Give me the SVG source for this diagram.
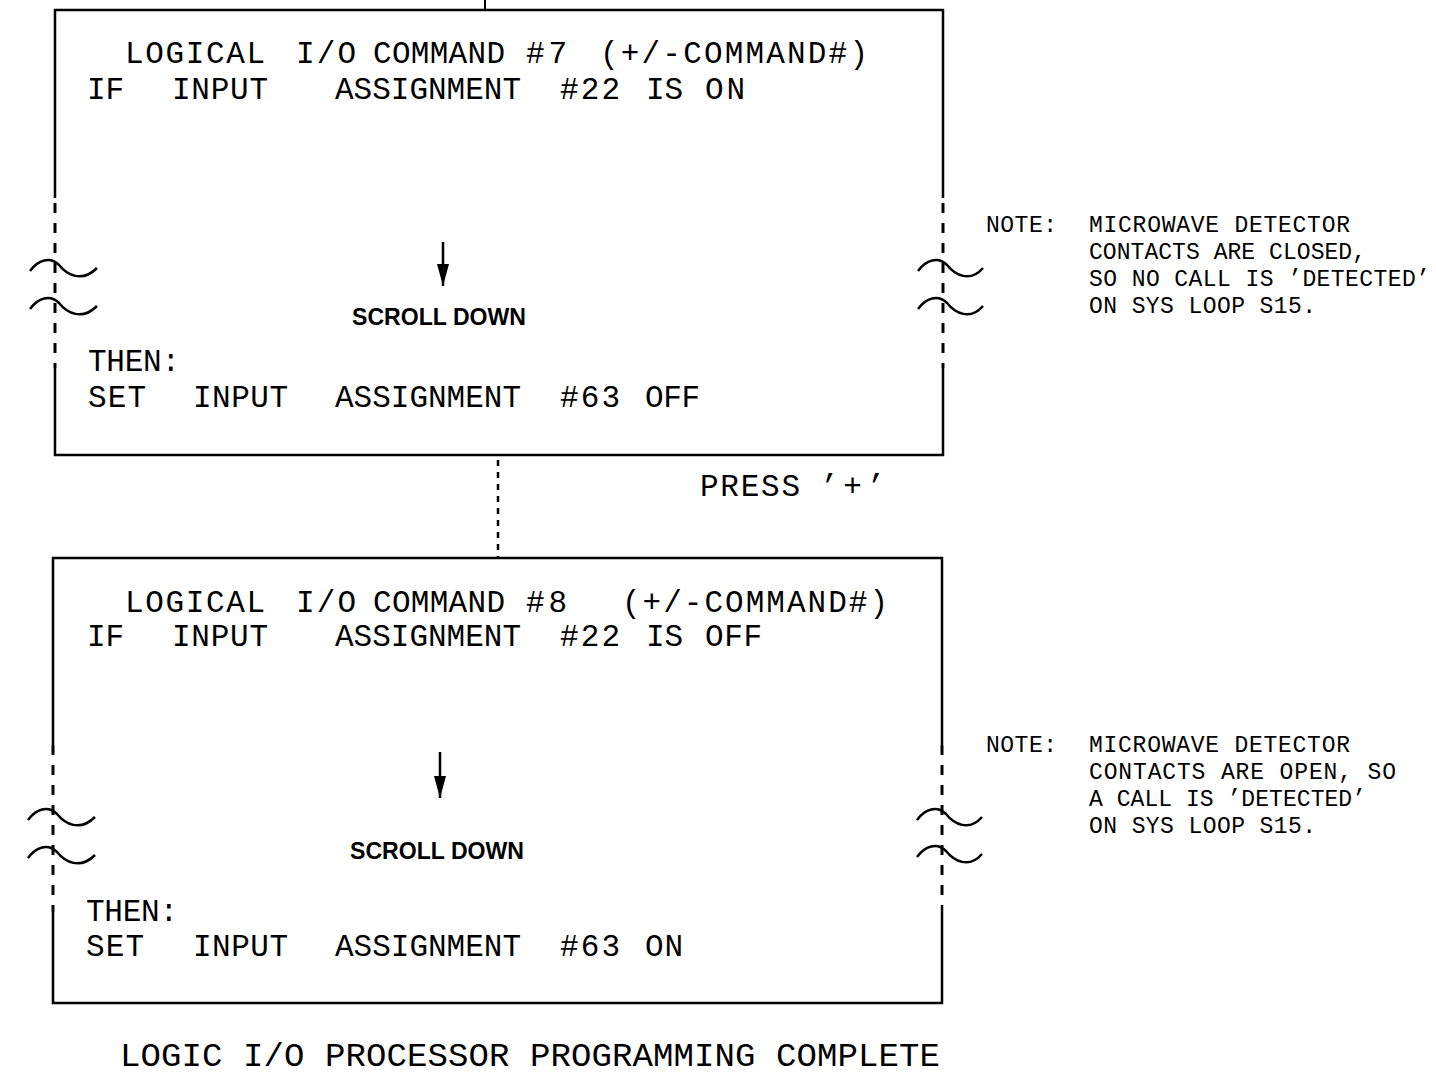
<svg xmlns="http://www.w3.org/2000/svg" width="1436" height="1080" viewBox="0 0 1436 1080">
<style>
.frame{fill:none;stroke:#000;stroke-width:2.5}
.dash{fill:none;stroke:#000;stroke-width:3;stroke-dasharray:10 10}
.brk{fill:none;stroke:#000;stroke-width:2.5}
.t{font-family:"Liberation Mono","DejaVu Sans Mono",monospace;font-size:31px;fill:#000}
.b{font-family:"Liberation Sans","DejaVu Sans",sans-serif;font-size:23px;font-weight:bold;fill:#000}
.n{font-family:"Liberation Mono","DejaVu Sans Mono",monospace;font-size:23px;fill:#000}
.big{font-family:"Liberation Mono","DejaVu Sans Mono",monospace;font-size:34px;fill:#000}
.arr{stroke:#000;stroke-width:2.5}
</style>
<defs>
<marker id="ah" markerWidth="22" markerHeight="12" refX="22" refY="6" orient="auto" markerUnits="userSpaceOnUse">
<path d="M0,0 L22,6 L0,12 Z" fill="#000"/>
</marker>
</defs>
<rect width="1436" height="1080" fill="#fff"/>

<g id="connectors">
<line x1="485" y1="0" x2="485" y2="9" stroke="#000" stroke-width="2"/>
<line x1="498" y1="460" x2="498" y2="557" fill="none" stroke="#000" stroke-width="2.5" stroke-dasharray="6 6"/>
</g>

<g id="cmd7">
<path class="frame" d="M55,198 L55,10 L943,10 L943,198"/>
<path class="frame" d="M55,368 L55,455 L943,455 L943,368"/>
<line class="dash" x1="55" y1="203" x2="55" y2="368"/>
<line class="dash" x1="943" y1="203" x2="943" y2="368"/>
<path class="brk" d="M30,271 C38,260 50,256 59,265 C67,275 82,283 97,268"/>
<path class="brk" d="M30,309 C38,298 50,294 59,303 C67,313 82,321 97,306"/>
<path class="brk" d="M918,271 C926,260 938,256 947,265 C955,275 970,283 983,268"/>
<path class="brk" d="M918,309 C926,298 938,294 947,303 C955,313 970,321 983,306"/>
<text class="t" x="125" y="63" textLength="140" lengthAdjust="spacing">LOGICAL</text>
<text class="t" x="296" y="63" textLength="60" lengthAdjust="spacing">I/O</text>
<text class="t" x="373" y="63" textLength="132" lengthAdjust="spacing">COMMAND</text>
<text class="t" x="526" y="63" textLength="41" lengthAdjust="spacing">#7</text>
<text class="t" x="600" y="63" textLength="268" lengthAdjust="spacing">(+/-COMMAND#)</text>
<text class="t" x="87" y="99">IF</text>
<text class="t" x="172" y="99" textLength="96" lengthAdjust="spacing">INPUT</text>
<text class="t" x="335" y="99" textLength="186" lengthAdjust="spacing">ASSIGNMENT</text>
<text class="t" x="560" y="99" textLength="60" lengthAdjust="spacing">#22</text>
<text class="t" x="646" y="99">IS</text>
<text class="t" x="705" y="99" textLength="40" lengthAdjust="spacing">ON</text>
<line class="arr" x1="443" y1="242" x2="443" y2="286" marker-end="url(#ah)"/>
<text class="b" x="352" y="325" textLength="174" lengthAdjust="spacingAndGlyphs">SCROLL DOWN</text>
<text class="t" x="88" y="371" textLength="92" lengthAdjust="spacing">THEN:</text>
<text class="t" x="88" y="407" textLength="58" lengthAdjust="spacing">SET</text>
<text class="t" x="193" y="407" textLength="95" lengthAdjust="spacing">INPUT</text>
<text class="t" x="335" y="407" textLength="186" lengthAdjust="spacing">ASSIGNMENT</text>
<text class="t" x="560" y="407" textLength="60" lengthAdjust="spacing">#63</text>
<text class="t" x="645" y="407" textLength="55" lengthAdjust="spacing">OFF</text>
</g>

<g id="note1">
<text class="n" x="986" y="232" textLength="71" lengthAdjust="spacing">NOTE:</text>
<text class="n" x="1089" y="232" textLength="261" lengthAdjust="spacing">MICROWAVE DETECTOR</text>
<text class="n" x="1089" y="259" textLength="277" lengthAdjust="spacing">CONTACTS ARE CLOSED,</text>
<text class="n" x="1089" y="286" textLength="341" lengthAdjust="spacing">SO NO CALL IS ’DETECTED’</text>
<text class="n" x="1089" y="313" textLength="227" lengthAdjust="spacing">ON SYS LOOP S15.</text>
</g>

<g id="press">
<text class="t" x="700" y="496" textLength="100" lengthAdjust="spacing">PRESS</text>
<text class="t" x="820" y="496" textLength="65" lengthAdjust="spacing">’+’</text>
</g>

<g id="cmd8">
<path class="frame" d="M53,745 L53,558 L942,558 L942,745"/>
<path class="frame" d="M53,912 L53,1003 L942,1003 L942,905"/>
<line class="dash" x1="53" y1="745" x2="53" y2="912"/>
<line class="dash" x1="942" y1="745" x2="942" y2="905"/>
<path class="brk" d="M28,820 C36,809 48,805 57,814 C65,824 80,832 95,817"/>
<path class="brk" d="M28,858 C36,847 48,843 57,852 C65,862 80,870 95,855"/>
<path class="brk" d="M917,820 C925,809 937,805 946,814 C954,824 969,832 982,817"/>
<path class="brk" d="M917,857 C925,846 937,842 946,851 C954,861 969,869 982,854"/>
<text class="t" x="125" y="612" textLength="140" lengthAdjust="spacing">LOGICAL</text>
<text class="t" x="296" y="612" textLength="60" lengthAdjust="spacing">I/O</text>
<text class="t" x="373" y="612" textLength="132" lengthAdjust="spacing">COMMAND</text>
<text class="t" x="526" y="612" textLength="41" lengthAdjust="spacing">#8</text>
<text class="t" x="622" y="612" textLength="266" lengthAdjust="spacing">(+/-COMMAND#)</text>
<text class="t" x="87" y="646">IF</text>
<text class="t" x="172" y="646" textLength="96" lengthAdjust="spacing">INPUT</text>
<text class="t" x="335" y="646" textLength="186" lengthAdjust="spacing">ASSIGNMENT</text>
<text class="t" x="560" y="646" textLength="60" lengthAdjust="spacing">#22</text>
<text class="t" x="646" y="646">IS</text>
<text class="t" x="705" y="646" textLength="57" lengthAdjust="spacing">OFF</text>
<line class="arr" x1="440" y1="752" x2="440" y2="798" marker-end="url(#ah)"/>
<text class="b" x="350" y="859" textLength="174" lengthAdjust="spacingAndGlyphs">SCROLL DOWN</text>
<text class="t" x="86" y="921" textLength="92" lengthAdjust="spacing">THEN:</text>
<text class="t" x="86" y="956" textLength="58" lengthAdjust="spacing">SET</text>
<text class="t" x="193" y="956" textLength="95" lengthAdjust="spacing">INPUT</text>
<text class="t" x="335" y="956" textLength="186" lengthAdjust="spacing">ASSIGNMENT</text>
<text class="t" x="560" y="956" textLength="60" lengthAdjust="spacing">#63</text>
<text class="t" x="645" y="956" textLength="38" lengthAdjust="spacing">ON</text>
</g>

<g id="note2">
<text class="n" x="986" y="752" textLength="71" lengthAdjust="spacing">NOTE:</text>
<text class="n" x="1089" y="752" textLength="261" lengthAdjust="spacing">MICROWAVE DETECTOR</text>
<text class="n" x="1089" y="779" textLength="307" lengthAdjust="spacing">CONTACTS ARE OPEN, SO</text>
<text class="n" x="1089" y="806" textLength="277" lengthAdjust="spacing">A CALL IS ’DETECTED’</text>
<text class="n" x="1089" y="833" textLength="227" lengthAdjust="spacing">ON SYS LOOP S15.</text>
</g>

<g id="complete">
<text class="big" x="120" y="1066" textLength="820" lengthAdjust="spacing">LOGIC I/O PROCESSOR PROGRAMMING COMPLETE</text>
</g>
</svg>
